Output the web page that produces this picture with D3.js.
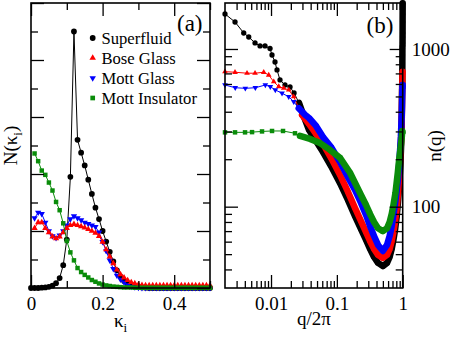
<!DOCTYPE html>
<html>
<head>
<meta charset="utf-8">
<script src="https://cdn.jsdelivr.net/npm/d3@7"></script>
<style>
body { margin: 0; background: #fff; }
svg text { font-family: 'Liberation Serif', 'Times New Roman', Times, 'Noto Serif', 'DejaVu Serif', 'FreeSerif', serif; }
</style>
</head>
<body>
<svg id="chart" width="452" height="337"></svg>
<script>
// ---- panel (a): distribution N(kappa_i) ----
var kappa = [0, 0.01, 0.02, 0.03, 0.04, 0.05, 0.06, 0.07, 0.08, 0.09,
             0.10, 0.11, 0.12, 0.13, 0.14, 0.15, 0.16, 0.17, 0.18, 0.19,
             0.20, 0.21, 0.22, 0.23, 0.24, 0.25, 0.26, 0.27, 0.28, 0.29,
             0.30, 0.31, 0.32, 0.33, 0.34, 0.35, 0.36, 0.37, 0.38, 0.39,
             0.40, 0.41, 0.42, 0.43, 0.44, 0.45, 0.46, 0.47, 0.48, 0.49, 0.50];

var superfluid = [0, 0, 0, 0.01, 0.02, 0.04, 0.08, 0.17, 0.35, 0.8,
                  1.7, 3.9, 9.0, 5.2, 4.75, 4.3, 3.8, 3.3, 2.82, 2.42,
                  2.0, 1.63, 1.27, 0.93, 0.62, 0.4, 0.25, 0.15, 0.09, 0.05,
                  0.03, 0.02, 0.01, 0, 0, 0, 0, 0, 0, 0,
                  0, 0, 0, 0, 0, 0, 0, 0, 0, 0, 0];

var boseGlass = [null, 2.1, 2.3, 2.3, 2.1, 1.95, 1.8, 1.74, 1.8, 1.95,
                 2.1, 2.2, 2.24, 2.2, 2.16, 2.12, 2.06, 2.0, 1.93, 1.82,
                 1.62, 1.35, 1.1, 0.86, 0.64, 0.48, 0.36, 0.27, 0.2, 0.16,
                 0.12, 0.1, 0.09, 0.09, 0.09, 0.09, 0.09, 0.09, 0.09, 0.09,
                 0.09, 0.09, 0.09, 0.09, 0.09, 0.09, 0.09, 0.09, 0.09, 0.09, 0.09];

var mottGlass = [null, 2.45, 2.65, 2.6, 2.3, 2.0, 1.82, 1.76, 1.85, 2.0,
                 2.2, 2.42, 2.52, 2.45, 2.38, 2.3, 2.25, 2.2, 2.15, 1.95,
                 1.62, 1.3, 0.97, 0.67, 0.44, 0.3, 0.2, 0.1, 0.05, 0.03,
                 0.01, 0, 0, 0, 0, 0, 0, 0, 0, 0,
                 0, 0, 0, 0, 0, 0, 0, 0, 0, 0, 0];

var mottInsulator = [null, 4.72, 4.45, 4.12, 3.97, 3.7, 3.42, 3.02, 2.73, 2.27,
                     1.65, 1.25, 0.97, 0.7, 0.56, 0.46, 0.37, 0.28, 0.22, 0.16,
                     0.12, 0.09, 0.07, 0.05, 0.04, 0.03, 0.02, 0.02, 0.02, 0.01,
                     0.01, 0.01, 0.01, 0.01, 0.01, 0.01, 0.01, 0.01, 0.01, 0.01,
                     0.01, 0.01, 0.01, 0.01, 0.01, 0.01, 0.01, 0.01, 0.01, 0.01, 0.01];

// ---- panel (b): momentum distribution n(q) ----
var qSF = [0.002, 0.00284, 0.00385, 0.00459, 0.00572, 0.00681, 0.00811, 0.00966, 0.01035, 0.0115,
           0.01233, 0.0137, 0.0163, 0.01945, 0.0224, 0.0266, 0.0317, 0.0378, 0.0483, 0.0616,
           0.0815, 0.1117, 0.1477, 0.1887, 0.2327, 0.2772, 0.3188, 0.3666, 0.4217, 0.5,
           0.5783, 0.6334, 0.6812, 0.7228, 0.7673, 0.8113, 0.8523, 0.8883, 0.9185, 0.9384,
           0.9517, 0.9622, 0.9683, 0.9734, 0.9776, 0.9806, 0.9837, 0.9863, 0.9877, 0.9885,
           0.9897, 0.9903, 0.9919, 0.9932, 0.9943, 0.9954, 0.9962, 0.9972, 0.998, 1.0];
var nSF = [1667, 1483, 1263, 1191, 1092, 1045, 1045, 1007, 916, 827,
           736, 636, 591, 574, 526, 455, 371, 306, 261, 222,
           181, 141, 110, 87, 72, 61.5, 54, 48, 44, 42,
           44, 48, 54, 61.5, 72, 87, 110, 141, 181, 222,
           261, 306, 371, 455, 526, 574, 591, 636, 736, 827,
           916, 1007, 1045, 1045, 1092, 1191, 1263, 1483, 1667, 1950];

var qBG = [0.002, 0.00284, 0.00432, 0.00572, 0.00775, 0.00923, 0.011, 0.0131, 0.0156, 0.0186,
           0.0221, 0.0296, 0.0378, 0.0483, 0.0616, 0.0815, 0.1117, 0.1477, 0.1887, 0.2327,
           0.2772, 0.3188, 0.3666, 0.4217, 0.5, 0.5783, 0.6334, 0.6812, 0.7228, 0.7673,
           0.8113, 0.8523, 0.8883, 0.9185, 0.9384, 0.9517, 0.9622, 0.9704, 0.9779, 0.9814,
           0.9844, 0.9869, 0.989, 0.9908, 0.9923, 0.9943, 0.9957, 0.9972, 0.998];
var nBG = [718, 712, 702, 702, 712, 684, 620, 577, 564, 550,
           498, 381, 335, 289, 250, 204, 159, 124, 98, 81,
           69, 60.6, 54, 49.4, 47.3, 49.4, 54, 60.6, 69, 81,
           98, 124, 159, 204, 250, 289, 335, 381, 498, 550,
           564, 577, 620, 684, 712, 702, 702, 712, 718];

var qMG = [0.002, 0.00286, 0.00407, 0.00578, 0.0082, 0.00976, 0.01162, 0.01469, 0.01857, 0.02212,
           0.02635, 0.0332, 0.0378, 0.0483, 0.0616, 0.0815, 0.1117, 0.1477, 0.1887, 0.2327,
           0.2772, 0.3188, 0.3666, 0.4217, 0.5, 0.5783, 0.6334, 0.6812, 0.7228, 0.7673,
           0.8113, 0.8523, 0.8883, 0.9185, 0.9384, 0.9517, 0.9622, 0.9668, 0.9737, 0.9779,
           0.9814, 0.9853, 0.9884, 0.9902, 0.9918, 0.9942, 0.9959, 0.9971, 0.998];
var nMG = [591, 568, 563, 568, 591, 577, 550, 524, 498, 463,
           421, 381, 365, 325, 277, 239, 192, 154, 127.6, 105.6,
           88.6, 75.4, 65.2, 57.2, 52.4, 57.2, 65.2, 75.4, 88.6, 105.6,
           127.6, 154, 192, 239, 277, 325, 365, 381, 421, 463,
           498, 524, 550, 577, 591, 568, 563, 568, 591];

var qMI = [0.002, 0.00284, 0.00403, 0.00515, 0.0073, 0.01036, 0.01522, 0.02314, 0.02757, 0.03912,
           0.05549, 0.0787, 0.1117, 0.1585, 0.2247, 0.2772, 0.3188, 0.3666, 0.4217, 0.5,
           0.5783, 0.6334, 0.6812, 0.7228, 0.7753, 0.8415, 0.8883, 0.9213, 0.9445, 0.9609,
           0.9724, 0.9769, 0.9848, 0.9896, 0.9927, 0.9949, 0.996, 0.9972, 0.998];
var nMI = [296, 296, 296, 297, 300, 302, 302, 292, 281, 269,
           253, 229, 204, 164, 122, 102.5, 90, 80, 73, 70,
           73, 80, 90, 102.5, 122, 164, 204, 229, 253, 269,
           281, 292, 302, 302, 300, 297, 296, 296, 296];

var seriesNames = ["Superfluid", "Bose Glass", "Mott Glass", "Mott Insulator"];
var seriesColors = ["#000000", "#ff0000", "#0000ff", "#0a8c0a"];

var xTicksA = [0, 0.2, 0.4];
var xTickLabelsA = ["0", "0.2", "0.4"];
var xTicksB = [0.01, 0.1, 1];
var xTickLabelsB = ["0.01", "0.1", "1"];
var yTicksB = [100, 1000];
var yTickLabelsB = ["100", "1000"];

var svg = d3.select("#chart");

var top0 = 3, bottom0 = 288;
var A = { left: 31, right: 210 };
var B = { left: 225, right: 402.7 };

var xA = d3.scaleLinear().domain([0, 0.5]).range([A.left, A.right]);
var yA = d3.scaleLinear().domain([0, 10]).range([bottom0, top0]);
var xB = d3.scaleLog().domain([0.002, 1]).range([B.left, B.right]);
var yB = d3.scaleLog().domain([30.5, 1957]).range([bottom0, top0]);

// symbol shapes per series
var shapes = [d3.symbolCircle, d3.symbolTriangle, d3.symbolTriangle, d3.symbolSquare];
var rotations = [0, 0, 180, 0];

function styleAxis(g, fontSize) {
  g.select(".domain").remove();
  g.selectAll(".tick line").attr("stroke", "#000").attr("stroke-width", 1.3);
  g.attr("font-family", null).attr("font-size", fontSize);
  g.selectAll("text").attr("fill", "#000");
}

function drawAxes(x, y, box, xMajor, xMinor, xLabels, yMajor, yMinor, yLabels) {
  var big = 13, small = 7;
  var gb = svg.append("g").attr("transform", "translate(0," + bottom0 + ")")
    .call(d3.axisBottom(x).tickValues(xMajor).tickSize(-big).tickPadding(8.5)
      .tickFormat(function(d, i) { return xLabels[i]; }));
  styleAxis(gb, 19);
  styleAxis(svg.append("g").attr("transform", "translate(0," + bottom0 + ")")
    .call(d3.axisBottom(x).tickValues(xMinor).tickSize(-small).tickFormat("")), 19);
  styleAxis(svg.append("g").attr("transform", "translate(0," + top0 + ")")
    .call(d3.axisTop(x).tickValues(xMajor).tickSize(-big).tickFormat("")), 19);
  styleAxis(svg.append("g").attr("transform", "translate(0," + top0 + ")")
    .call(d3.axisTop(x).tickValues(xMinor).tickSize(-small).tickFormat("")), 19);

  styleAxis(svg.append("g").attr("transform", "translate(" + box.left + ",0)")
    .call(d3.axisLeft(y).tickValues(yMajor).tickSize(-big).tickFormat("")), 19);
  styleAxis(svg.append("g").attr("transform", "translate(" + box.left + ",0)")
    .call(d3.axisLeft(y).tickValues(yMinor).tickSize(-small).tickFormat("")), 19);
  var gr = svg.append("g").attr("transform", "translate(" + box.right + ",0)")
    .call(d3.axisRight(y).tickValues(yMajor).tickSize(-big).tickPadding(9)
      .tickFormat(function(d, i) { return yLabels ? yLabels[i] : ""; }));
  styleAxis(gr, 19);
  styleAxis(svg.append("g").attr("transform", "translate(" + box.right + ",0)")
    .call(d3.axisRight(y).tickValues(yMinor).tickSize(-small).tickFormat("")), 19);

  svg.append("rect")
    .attr("x", box.left).attr("y", top0)
    .attr("width", box.right - box.left).attr("height", bottom0 - top0)
    .attr("fill", "none").attr("stroke", "#000").attr("stroke-width", 1.6);
}

function label(x, y, size) {
  return svg.append("text").attr("x", x).attr("y", y)
    .attr("font-size", size).attr("fill", "#000");
}

// ---------- panel (a) ----------
var seriesA = [superfluid, boseGlass, mottGlass, mottInsulator];
var drawOrderA = [0, 2, 1, 3];
var lineA = d3.line()
  .defined(function(d) { return d[1] !== null; })
  .x(function(d) { return xA(d[0]); })
  .y(function(d) { return yA(d[1]); });

drawOrderA.forEach(function(s) {
  var pts = kappa.map(function(k, i) { return [k, seriesA[s][i]]; });
  svg.append("path").attr("d", lineA(pts))
    .attr("fill", "none").attr("stroke", seriesColors[s]).attr("stroke-width", 1);
  svg.append("g").selectAll("path")
    .data(pts.filter(function(d) { return d[1] !== null; }))
    .join("path")
    .attr("d", d3.symbol().type(shapes[s]).size(s === 0 ? 26 : (s === 3 ? 20 : 17)))
    .attr("transform", function(d) { return "translate(" + xA(d[0]) + "," + yA(d[1]) + ") rotate(" + rotations[s] + ")"; })
    .attr("fill", seriesColors[s]);
});

drawAxes(xA, yA, A, xTicksA, [0.1, 0.3, 0.5], xTickLabelsA,
  [0, 2, 4, 6, 8, 10], [1, 3, 5, 7, 9], null);

// legend
seriesNames.forEach(function(name, i) {
  var ly = 38 + i * 20;
  svg.append("path")
    .attr("d", d3.symbol().type(shapes[i]).size(i === 0 ? 26 : (i === 3 ? 22 : 18)))
    .attr("transform", "translate(92.7," + ly + ") rotate(" + rotations[i] + ")")
    .attr("fill", seriesColors[i]);
  label(101.5, ly + 5.6, 16.6).text(name);
});

label(177, 31, 23).text("(a)");

// axis labels (a)
var xlabA = label((A.left + A.right) / 2, 326.5, 19).attr("text-anchor", "middle");
xlabA.append("tspan").text("κ");
xlabA.append("tspan").attr("font-size", 13).attr("dy", 5).text("i");

var ylabA = label(0, 0, 19).attr("transform", "translate(17,145.5) rotate(-90)")
  .attr("text-anchor", "middle");
ylabA.append("tspan").text("N(κ");
ylabA.append("tspan").attr("font-size", 13).attr("dy", 5).text("i");
ylabA.append("tspan").attr("dy", -5).text(")");

// ---------- panel (b) ----------
var seriesB = [[qSF, nSF], [qBG, nBG], [qMG, nMG], [qMI, nMI]];
var denseFrom = 0.025;
var lineB = d3.line()
  .x(function(d) { return xB(d[0]); })
  .y(function(d) { return yB(d[1]); });

seriesB.forEach(function(sr, s) {
  var pts = sr[0].map(function(q, i) { return [q, sr[1][i]]; });
  svg.append("path").attr("d", lineB(pts.filter(function(d) { return d[0] >= denseFrom; })))
    .attr("fill", "none").attr("stroke", seriesColors[s]).attr("stroke-width", 6.5)
    .attr("stroke-linejoin", "round").attr("stroke-linecap", "round");
  svg.append("path").attr("d", lineB(pts))
    .attr("fill", "none").attr("stroke", seriesColors[s]).attr("stroke-width", 1);
  svg.append("g").selectAll("path").data(pts).join("path")
    .attr("d", d3.symbol().type(shapes[s]).size(s === 0 ? 22 : (s === 3 ? 20 : 14)))
    .attr("transform", function(d) { return "translate(" + xB(d[0]) + "," + yB(d[1]) + ") rotate(" + rotations[s] + ")"; })
    .attr("fill", seriesColors[s]);
});

var xMinorB = xB.ticks().filter(function(d) { return xTicksB.indexOf(d) < 0 && d > 0.002; });
var yMinorB = yB.ticks().filter(function(d) { return yTicksB.indexOf(d) < 0; });
drawAxes(xB, yB, B, xTicksB, xMinorB, xTickLabelsB, yTicksB, yMinorB, yTickLabelsB);

label(366.5, 32.5, 23).text("(b)");

label((B.left + B.right) / 2, 325, 19).attr("text-anchor", "middle").text("q/2π");

label(0, 0, 19).attr("transform", "translate(441,146) rotate(-90)")
  .attr("text-anchor", "middle").text("n(q)");
</script>
</body>
</html>
